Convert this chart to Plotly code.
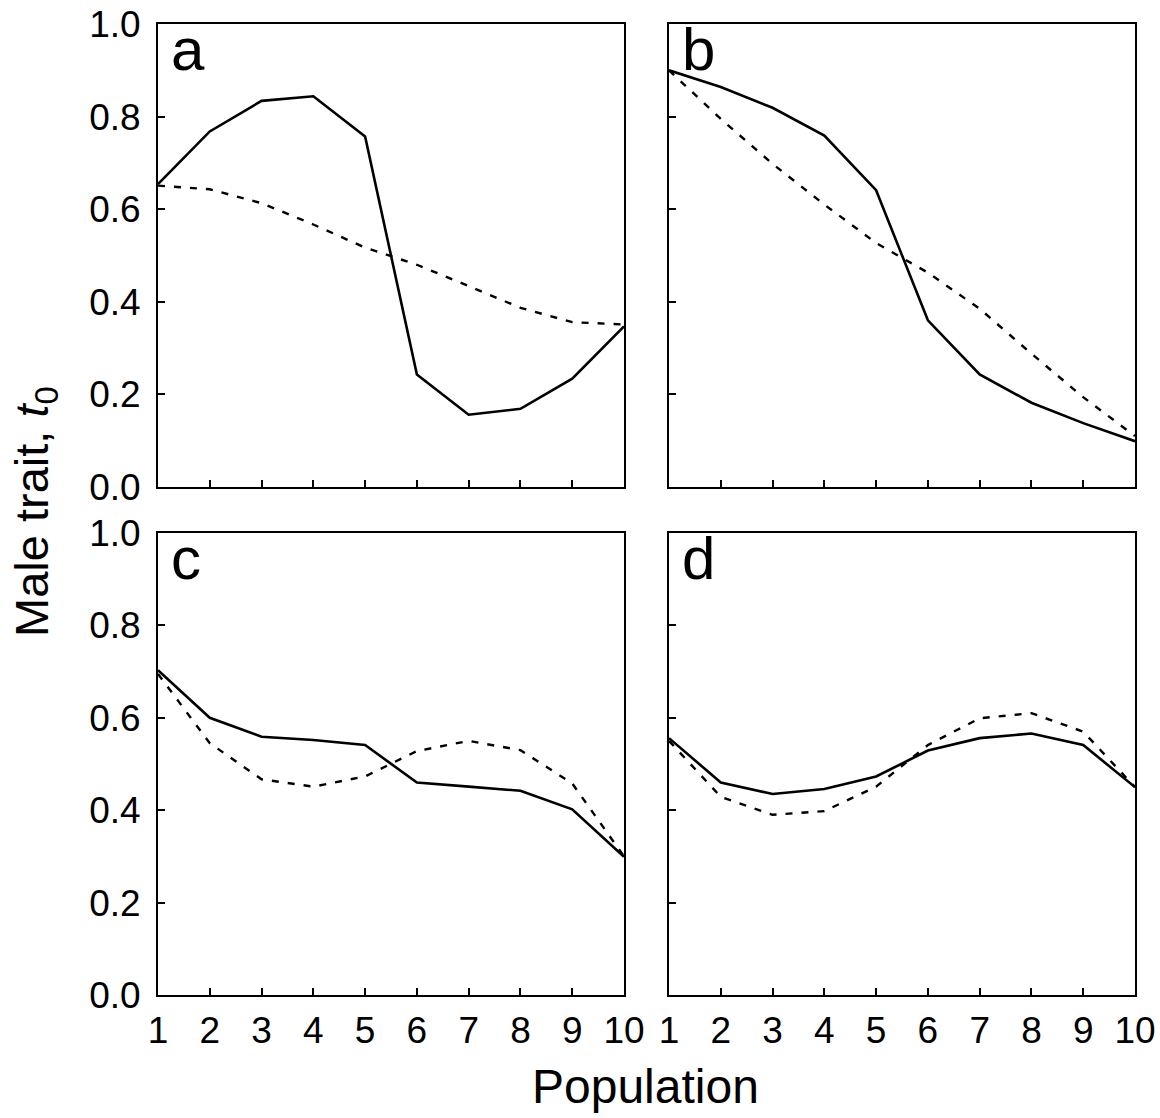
import plotly.graph_objects as go

population = [1, 2, 3, 4, 5, 6, 7, 8, 9, 10]

a_solid = [0.654, 0.768, 0.834, 0.844, 0.757, 0.243, 0.156, 0.169, 0.234, 0.347]
a_dashed = [0.651, 0.643, 0.613, 0.567, 0.517, 0.480, 0.434, 0.387, 0.356, 0.351]

b_solid = [0.900, 0.864, 0.819, 0.759, 0.641, 0.360, 0.243, 0.182, 0.138, 0.099]
b_dashed = [0.900, 0.795, 0.698, 0.610, 0.527, 0.463, 0.385, 0.288, 0.194, 0.110]

c_solid = [0.703, 0.600, 0.559, 0.552, 0.541, 0.460, 0.451, 0.442, 0.402, 0.299]
c_dashed = [0.695, 0.545, 0.467, 0.451, 0.473, 0.528, 0.550, 0.530, 0.458, 0.300]

d_solid = [0.556, 0.460, 0.435, 0.446, 0.473, 0.529, 0.556, 0.566, 0.541, 0.450]
d_dashed = [0.550, 0.429, 0.390, 0.398, 0.451, 0.541, 0.599, 0.610, 0.570, 0.450]

panel_labels = ["a", "b", "c", "d"]
x_ticks = [1, 2, 3, 4, 5, 6, 7, 8, 9, 10]
y_ticks = [0.0, 0.2, 0.4, 0.6, 0.8, 1.0]

panels = [(a_solid, a_dashed), (b_solid, b_dashed), (c_solid, c_dashed), (d_solid, d_dashed)]

W, H = 1160, 1118
FONT = "Liberation Sans, Arial, sans-serif"

# pixel boxes of the four frames (left, right, top, bottom)
boxes = [
    (158, 624, 24, 487),
    (669, 1135, 24, 487),
    (158, 624, 533, 995),
    (669, 1135, 533, 995),
]

fig = go.Figure()
layout = dict(
    width=W, height=H,
    margin=dict(l=0, r=0, t=0, b=0, autoexpand=False),
    paper_bgcolor="white", plot_bgcolor="white",
    showlegend=False,
    font=dict(family=FONT, color="black"),
)

for i, ((solid, dashed), box) in enumerate(zip(panels, boxes)):
    n = i + 1
    xa = "x" if n == 1 else f"x{n}"
    ya = "y" if n == 1 else f"y{n}"
    fig.add_trace(go.Scatter(x=population, y=dashed, mode="lines",
                             line=dict(color="black", width=2.4, dash="7px,9px"),
                             xaxis=xa, yaxis=ya))
    fig.add_trace(go.Scatter(x=population, y=solid, mode="lines",
                             line=dict(color="black", width=2.6),
                             xaxis=xa, yaxis=ya))
    l, r, t, b = box
    xkey = "xaxis" if n == 1 else f"xaxis{n}"
    ykey = "yaxis" if n == 1 else f"yaxis{n}"
    layout[xkey] = dict(
        domain=[l / W, r / W], anchor=ya, range=[1, 10],
        tickvals=x_ticks, ticktext=[str(v) for v in x_ticks],
        showticklabels=(n >= 3), ticks="inside", ticklen=7, tickwidth=1.5,
        tickcolor="black", showline=True, linecolor="black", linewidth=2,
        mirror=True, showgrid=False, zeroline=False, automargin=False,
        tickfont=dict(size=37, family=FONT, color="black"),
        ticklabelstandoff=2,
    )
    layout[ykey] = dict(
        domain=[1 - b / H, 1 - t / H], anchor=xa, range=[0, 1],
        tickvals=y_ticks, ticktext=[f"{v:.1f}" for v in y_ticks],
        showticklabels=(n in (1, 3)), ticks="inside", ticklen=7, tickwidth=1.5,
        tickcolor="black", showline=True, linecolor="black", linewidth=2,
        mirror=True, showgrid=False, zeroline=False, automargin=False,
        tickfont=dict(size=37, family=FONT, color="black"),
        ticklabelstandoff=8,
    )

fig.update_layout(**layout)

annotations = []
for i, box in enumerate(boxes):
    l, r, t, b = box
    annotations.append(dict(
        text=panel_labels[i], xref="paper", yref="paper",
        x=(l + 11) / W, y=1 - (t - 10) / H, xanchor="left", yanchor="top",
        showarrow=False, font=dict(size=60, family=FONT, color="black"),
    ))
annotations.append(dict(
    text="Population", xref="paper", yref="paper",
    x=646 / W, y=1 - 1086 / H, xanchor="center", yanchor="middle",
    showarrow=False, font=dict(size=48, family=FONT, color="black"),
))
annotations.append(dict(
    text="Male trait, <i>t</i><sub>0</sub>", xref="paper", yref="paper",
    x=35 / W, y=1 - 512 / H, xanchor="center", yanchor="middle", textangle=-90,
    showarrow=False, font=dict(size=47, family=FONT, color="black"),
))
fig.update_layout(annotations=annotations)

fig.write_html("out.html")
